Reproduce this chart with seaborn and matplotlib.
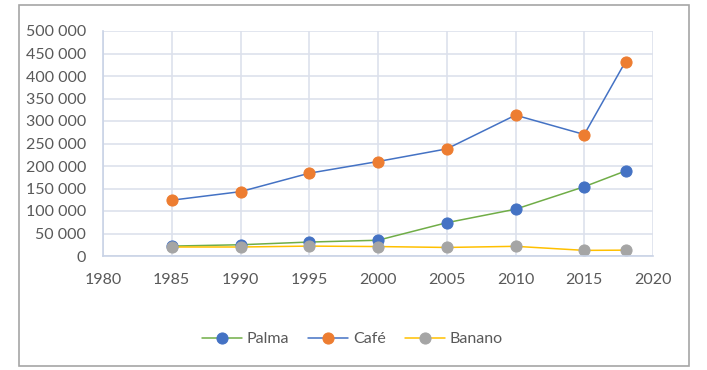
import numpy as np
import pandas as pd
import seaborn as sns
import matplotlib.pyplot as plt
from matplotlib.patches import Rectangle
from matplotlib.ticker import FuncFormatter

sns.set_theme(style="white")
plt.rcParams['font.family'] = ['Lato', 'DejaVu Sans']

years = [1985, 1990, 1995, 2000, 2005, 2010, 2015, 2018]
palma = [22000, 25000, 31000, 35000, 74000, 104000, 154000, 189000]
cafe = [124000, 143000, 184000, 210000, 238000, 313000, 270000, 432000]
banano = [20000, 20000, 22000, 21000, 19000, 21500, 12500, 13000]

series = ["Palma", "Café", "Banano"]
line_colors = ["#70AD47", "#4472C4", "#FFC000"]
marker_colors = ["#4472C4", "#ED7D31", "#A5A5A5"]

df = pd.DataFrame({"Palma": palma, "Café": cafe, "Banano": banano}, index=years)

fig = plt.figure(figsize=(7.07, 3.70), dpi=100)
ax = fig.add_axes([103 / 707, 1 - 256 / 370, 550 / 707, 225 / 370])

for name, lc, mc in zip(series, line_colors, marker_colors):
    sns.lineplot(x=df.index, y=df[name], ax=ax, color=lc, linewidth=1.1,
                 marker="o", markersize=8, markerfacecolor=mc,
                 markeredgecolor=mc, label=name)

ax.set_xlim(1980, 2020)
ax.set_ylim(0, 500000)
ax.set_xticks(range(1980, 2021, 5))
ax.set_yticks(range(0, 500001, 50000))
ax.yaxis.set_major_formatter(FuncFormatter(lambda v, p: f"{int(v):,}".replace(",", " ")))
ax.set_xlabel("")
ax.set_ylabel("")
ax.grid(True, color="#DDE1EC", linewidth=1.2)
for side in ["top", "right"]:
    ax.spines[side].set_visible(False)
for side in ["left", "bottom"]:
    ax.spines[side].set_color("#C9D3E6")
    ax.spines[side].set_linewidth(1.2)
ax.tick_params(axis="both", length=0, labelsize=11.5, colors="#595959")
ax.tick_params(axis="x", pad=12)
ax.tick_params(axis="y", pad=12)

# legend centred on the outer frame, not on the axes
ax.legend(loc="center", bbox_to_anchor=(0.453, -0.37), ncol=3, frameon=False,
          fontsize=11.5, labelcolor="#595959", handlelength=2.5, columnspacing=1.2,
          handletextpad=0.3)

fig.add_artist(Rectangle((19 / 707, 1 - 366 / 370), 670 / 707, 361 / 370,
                         transform=fig.transFigure, fill=False,
                         edgecolor="#A6A6A6", linewidth=1.2))

fig.savefig("out.png", dpi=100)
